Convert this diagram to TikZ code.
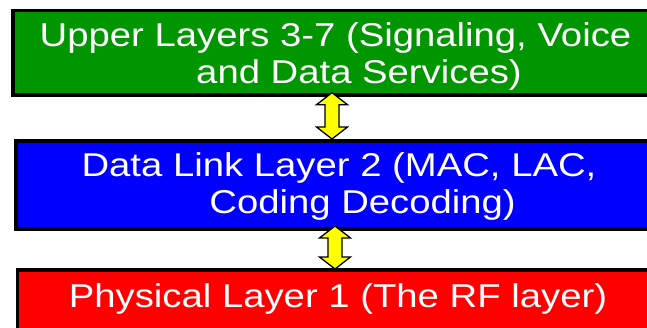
\documentclass[tikz,border=0pt]{standalone}
\usepackage{fontspec}
\setmainfont{Liberation Sans}
\definecolor{upgreen}{RGB}{0,150,0}
\definecolor{dlblue}{RGB}{0,0,255}
\definecolor{phred}{RGB}{255,0,0}
\definecolor{arrowyellow}{RGB}{255,255,0}
\begin{document}
\begin{tikzpicture}[x=1pt,y=1pt,
  layerbox/.style={draw=black,line width=3.5pt,rectangle,inner sep=0pt,outer sep=0pt,anchor=north west,minimum width=660pt},
  ltext/.style={text=white,inner sep=0pt,anchor=base,font=\fontsize{33}{38}\selectfont},
  darrow/.style={draw=black,fill=arrowyellow,line width=1.3pt,line join=miter}]
\useasboundingbox (0,0) rectangle (647,327);
\node[layerbox,fill=upgreen,minimum height=84.5pt] (upper) at (12.75,316.25) {};
\node[layerbox,fill=dlblue,minimum height=88pt] (datalink) at (15.75,186) {};
\node[layerbox,fill=phred,minimum height=80pt] (physical) at (17.5,57) {};
% double arrow between upper and data link layers
\coordinate (a1top) at (332,234.3);
\coordinate (a1bot) at (332,188);
\draw[darrow] (a1top) -- ++(15.5,-12) -- ++(-8.5,0) -- (339,200) -- ++(8.5,0) -- (a1bot)
  -- ++(-15.5,12) -- ++(8.5,0) -- (325,222.3) -- ++(-8.5,0) -- cycle;
% double arrow between data link and physical layers
\coordinate (a2top) at (335,101);
\coordinate (a2bot) at (335,58);
\draw[darrow] (a2top) -- ++(15.5,-12) -- ++(-8.5,0) -- (342,70) -- ++(8.5,0) -- (a2bot)
  -- ++(-15.5,12) -- ++(8.5,0) -- (328,89) -- ++(-8.5,0) -- cycle;
\node[ltext] (g1) at (335.5,280.3) {\scalebox{1.16}[1]{Upper Layers 3-7 (Signaling, Voice}};
\node[ltext] (g2) at (359,243.7) {\scalebox{1.16}[1]{and Data Services)}};
\node[ltext] (b1) at (339,150.3) {\scalebox{1.16}[1]{Data Link Layer 2 (MAC, LAC,}};
\node[ltext] (b2) at (362.6,114) {\scalebox{1.16}[1]{Coding Decoding)}};
\node[ltext] (r1) at (338,19.7) {\scalebox{1.16}[1]{Physical Layer 1 (The RF layer)}};
\end{tikzpicture}
\end{document}
